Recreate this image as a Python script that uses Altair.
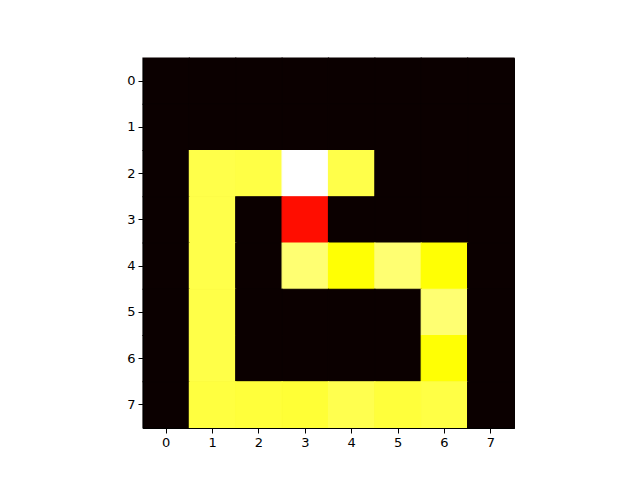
import altair as alt
import pandas as pd

rows = list(range(8))
cols = list(range(8))
# normalized intensity per row (row 0 at top)
row0 = [0, 0, 0, 0, 0, 0, 0, 0]
row1 = [0, 0, 0, 0, 0, 0, 0, 0]
row2 = [0, 0.82, 0.815, 1.0, 0.82, 0, 0, 0]
row3 = [0, 0.82, 0, 0.384, 0, 0, 0, 0]
row4 = [0, 0.82, 0, 0.86, 0.75, 0.86, 0.75, 0]
row5 = [0, 0.818, 0, 0, 0, 0, 0.86, 0]
row6 = [0, 0.818, 0, 0, 0, 0, 0.75, 0]
row7 = [0, 0.81, 0.805, 0.80, 0.825, 0.805, 0.815, 0]
grid = [row0, row1, row2, row3, row4, row5, row6, row7]

records = []
for r in rows:
    for c in cols:
        records.append({"row": r, "col": c, "value": grid[r][c]})
df = pd.DataFrame(records)

hot = alt.Scale(domain=[0, 0.365, 0.746, 1.0],
                range=["#0b0000", "#ff0000", "#ffff00", "#ffffff"],
                interpolate="rgb")

chart = alt.Chart(df).mark_rect(strokeWidth=1.2).encode(
    x=alt.X("col:O", sort=cols, title=None,
            scale=alt.Scale(paddingInner=0, paddingOuter=0),
            axis=alt.Axis(labelAngle=0, domain=True, domainColor="black",
                          tickColor="black", tickSize=5, labelPadding=3,
                          labelFont="DejaVu Sans", labelFontSize=13,
                          labelColor="black", grid=False)),
    y=alt.Y("row:O", sort=rows, title=None,
            scale=alt.Scale(paddingInner=0, paddingOuter=0),
            axis=alt.Axis(domain=True, domainColor="black",
                          tickColor="black", tickSize=5, labelPadding=3,
                          labelFont="DejaVu Sans", labelFontSize=13,
                          labelColor="black", grid=False)),
    color=alt.Color("value:Q", legend=None, scale=hot),
    stroke=alt.Stroke("value:Q", legend=None, scale=hot),
).properties(
    width=371, height=370,
    autosize=alt.AutoSizeParams(type="none"),
    padding={"left": 143, "top": 58, "right": 126, "bottom": 52},
).configure_view(stroke="black", strokeWidth=1, fill="#0b0000")

chart.save("out.html", embed_options={"renderer": "svg", "actions": False})
